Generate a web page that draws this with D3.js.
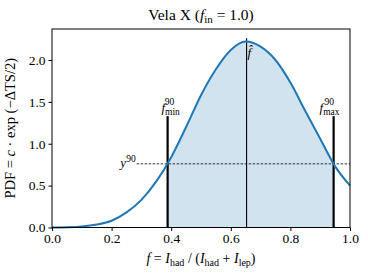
<!DOCTYPE html>
<html>
<head>
<meta charset="utf-8">
<script src="https://cdn.jsdelivr.net/npm/d3@7"></script>
<style>
  body { margin: 0; background: #fff; }
  text { font-family: "Liberation Serif", "DejaVu Serif", serif; fill: #000; }
</style>
</head>
<body>
<svg width="368" height="276"></svg>
<script>
// values
var fGrid = [0, 0.05, 0.1, 0.15, 0.2, 0.25, 0.3, 0.35, 0.4, 0.45, 0.5, 0.55, 0.6, 0.65, 0.7, 0.75, 0.8, 0.85, 0.9, 0.95, 1.0];
var pdfVals = [0, 0.003, 0.012, 0.035, 0.08, 0.18, 0.33, 0.55, 0.84, 1.20, 1.58, 1.89, 2.12, 2.22, 2.16, 2.0, 1.73, 1.39, 1.06, 0.73, 0.50];
var fMin = 0.388, fMax = 0.945, fHat = 0.653, y90 = 0.76;
var xTicks = [0, 0.2, 0.4, 0.6, 0.8, 1.0];
var yTicks = [0, 0.5, 1.0, 1.5, 2.0];

var svg = d3.select("svg");
var width = +svg.attr("width");
var height = +svg.attr("height");
var margin = {left: 52, right: 18, top: 29, bottom: 48.5};

var x = d3.scaleLinear().domain([0, 1]).range([margin.left, width - margin.right]);
var y = d3.scaleLinear().domain([0, 2.37]).range([height - margin.bottom, margin.top]);

var data = fGrid.map(function(f, i) { return {f: f, v: pdfVals[i]}; });

// shaded 90% interval
svg.append("clipPath").attr("id", "band")
  .append("rect")
    .attr("x", x(fMin)).attr("y", margin.top)
    .attr("width", x(fMax) - x(fMin)).attr("height", y(0) - margin.top);

svg.append("path")
    .datum(data)
    .attr("clip-path", "url(#band)")
    .attr("fill", "#d2e3f0")
    .attr("d", d3.area().curve(d3.curveMonotoneX)
      .x(function(d) { return x(d.f); })
      .y0(y(0))
      .y1(function(d) { return y(d.v); }));

// y90 dashed line
svg.append("line")
    .attr("x1", x(0.284)).attr("x2", x(1))
    .attr("y1", y(y90)).attr("y2", y(y90))
    .attr("stroke", "#000").attr("stroke-width", 0.8)
    .attr("stroke-dasharray", "2.5,1.5");

// fhat line
svg.append("line")
    .attr("x1", x(fHat)).attr("x2", x(fHat))
    .attr("y1", y(0)).attr("y2", y(2.26))
    .attr("stroke", "#000").attr("stroke-width", 1.1);

// fmin / fmax lines
[fMin, fMax].forEach(function(f) {
  svg.append("line")
      .attr("x1", x(f)).attr("x2", x(f))
      .attr("y1", y(0)).attr("y2", y(1.33))
      .attr("stroke", "#000").attr("stroke-width", 2.2);
});

// curve
svg.append("path")
    .datum(data)
    .attr("fill", "none")
    .attr("stroke", "#1f77b4")
    .attr("stroke-width", 2)
    .attr("d", d3.line().curve(d3.curveMonotoneX)
      .x(function(d) { return x(d.f); })
      .y(function(d) { return y(d.v); }));

// frame
svg.append("rect")
    .attr("x", margin.left).attr("y", margin.top)
    .attr("width", width - margin.left - margin.right)
    .attr("height", height - margin.top - margin.bottom)
    .attr("fill", "none").attr("stroke", "#000").attr("stroke-width", 1);

var xAxis = svg.append("g")
    .attr("transform", "translate(0," + y(0) + ")")
    .call(d3.axisBottom(x).tickValues(xTicks).tickFormat(d3.format(".1f")).tickSize(3.5).tickPadding(2));
var yAxis = svg.append("g")
    .attr("transform", "translate(" + margin.left + ",0)")
    .call(d3.axisLeft(y).tickValues(yTicks).tickFormat(d3.format(".1f")).tickSize(3.5).tickPadding(3));
[xAxis, yAxis].forEach(function(g) {
  g.attr("font-family", null);
  g.select(".domain").remove();
  g.selectAll("text").style("font-family", "Liberation Serif").style("font-size", "13.5px");
  g.selectAll("line").attr("stroke", "#000");
});

// title
var title = svg.append("text")
    .attr("x", 201).attr("y", 20)
    .attr("text-anchor", "middle").style("font-size", "15.5px");
title.append("tspan").text("Vela X (");
title.append("tspan").style("font-style", "italic").text("f");
title.append("tspan").attr("dy", 3).style("font-size", "11px").text("in");
title.append("tspan").attr("dy", -3).text(" = 1.0)");

// x label
var xl = svg.append("text")
    .attr("x", 201).attr("y", 263)
    .attr("text-anchor", "middle").style("font-size", "14px");
xl.append("tspan").style("font-style", "italic").text("f");
xl.append("tspan").text("  =  ");
xl.append("tspan").style("font-style", "italic").text("I");
xl.append("tspan").attr("dy", 2.5).style("font-size", "10px").text("had");
xl.append("tspan").attr("dy", -2.5).text(" / (");
xl.append("tspan").style("font-style", "italic").text("I");
xl.append("tspan").attr("dy", 2.5).style("font-size", "10px").text("had");
xl.append("tspan").attr("dy", -2.5).text(" + ");
xl.append("tspan").style("font-style", "italic").text("I");
xl.append("tspan").attr("dy", 2.5).style("font-size", "10px").text("lep");
xl.append("tspan").attr("dy", -2.5).text(")");

// y label
var yl = svg.append("text")
    .attr("transform", "translate(15," + ((margin.top + y(0)) / 2) + ") rotate(-90)")
    .attr("text-anchor", "middle").style("font-size", "14.5px");
yl.append("tspan").text("PDF = ");
yl.append("tspan").style("font-style", "italic").text("c");
yl.append("tspan").text(" \u00b7 exp (\u2212\u0394TS/2)");

// annotations
function fLabel(xc, sub) {
  var t = svg.append("text").attr("x", xc).attr("y", 112).attr("text-anchor", "middle").style("font-size", "13px");
  t.append("tspan").style("font-style", "italic").text("f");
  t.append("tspan").attr("dy", 3).style("font-size", "9.5px").text(sub);
  t.append("tspan").attr("dx", -(sub.length * 5)).attr("dy", -10).style("font-size", "9.5px").text("90");
}
fLabel(x(fMin) + 3, "min");
fLabel(x(fMax) - 4, "max");

var yt = svg.append("text").attr("x", x(0.284) - 1).attr("y", y(y90) + 3)
    .attr("text-anchor", "end").style("font-size", "13px");
yt.append("tspan").style("font-style", "italic").text("y");
yt.append("tspan").attr("dy", -5).style("font-size", "9.5px").text("90");

svg.append("text").attr("x", x(fHat) + 1).attr("y", 57)
    .style("font-size", "13px").style("font-style", "italic").text("f\u0302");
</script>
</body>
</html>
